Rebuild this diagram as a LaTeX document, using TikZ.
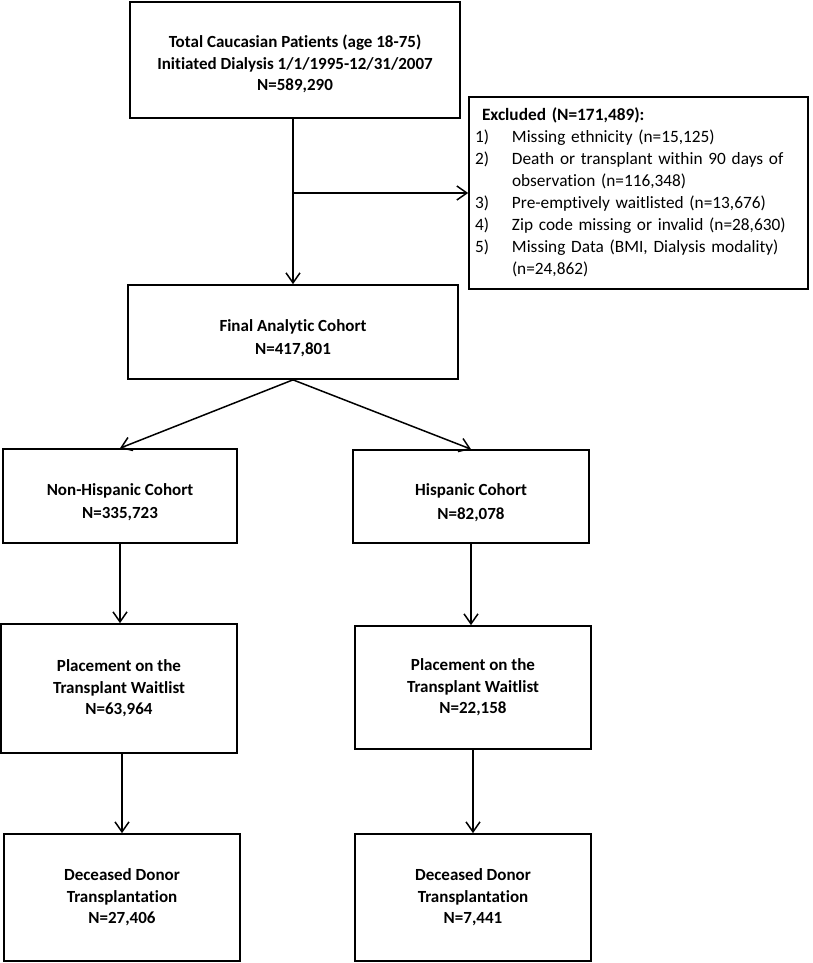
\documentclass[tikz,border=0pt]{standalone}
\usepackage{fontspec}
\setmainfont{Carlito}[Ligatures=NoCommon]
\usetikzlibrary{arrows.meta}
\begin{document}
\begin{tikzpicture}[x=1pt, y=-1pt, line width=1.5pt,
    >={Straight Barb[length=10pt,width=14pt]},
    box/.style={draw, line width=1.7pt, align=center, inner sep=0pt,
                font=\fontsize{17}{21.5}\selectfont\bfseries},
    lowtext/.style={text height=#1},
    twoline/.style={box, lowtext=48pt, font=\fontsize{17}{23.5}\selectfont\bfseries},
    exclbox/.style={draw, line width=1.7pt, align=left, inner xsep=6pt, inner ysep=0pt,
                text width=327pt, font=\fontsize{17.3}{22}\selectfont}]

    \useasboundingbox (0,0) rectangle (812,963);

    \node [box, lowtext=64pt, minimum width=330pt, minimum height=116pt] at (295,60) (Tot)
        {Total Caucasian Patients (age 18-75)\\Initiated Dialysis 1/1/1995-12/31/2007\\N=589,290};

    \node [exclbox, minimum height=192pt] at (638.5,193) (Excl)
        {\begin{tabular}{@{}p{37pt}@{}l@{}}
         \multicolumn{2}{@{\hspace{7pt}}l@{}}{\textbf{Excluded (N=171,489):}}\\
         1) & Missing ethnicity (n=15,125)\\
         2) & Death or transplant within 90 days of\\
            & observation (n=116,348)\\
         3) & Pre-emptively waitlisted (n=13,676)\\
         4) & Zip code missing or invalid (n=28,630)\\
         5) & Missing Data (BMI, Dialysis modality)\\
            & (n=24,862)
         \end{tabular}};

    \node [twoline, minimum width=330pt, minimum height=94pt] at (293,332) (Fin)
        {Final Analytic Cohort\\N=417,801};

    \node [twoline, minimum width=234pt, minimum height=94pt] at (120,496) (NH)
        {Non-Hispanic Cohort\\N=335,723};
    \node [twoline, minimum width=236pt, minimum height=93pt] at (471,496.5) (H)
        {Hispanic Cohort\\N=82,078};

    \node [box, minimum width=236pt, minimum height=129pt] at (119,688.5) (WlNH)
        {Placement on the\\Transplant Waitlist\\N=63,964};
    \node [box, minimum width=236pt, minimum height=123pt] at (473,687.5) (WlH)
        {Placement on the\\Transplant Waitlist\\N=22,158};

    \node [box, minimum width=236pt, minimum height=127pt] at (122,897.5) (DdNH)
        {Deceased Donor\\Transplantation\\N=27,406};
    \node [box, minimum width=236pt, minimum height=127pt] at (473,897.5) (DdH)
        {Deceased Donor\\Transplantation\\N=7,441};

    % main line and exclusion branch
    \coordinate (TotOut) at (Fin.north |- Tot.south);
    \coordinate (Split) at (Fin.north |- Excl.west);
    \path [->,draw] (TotOut) -- (Fin.north);
    \path [->,draw] (Split) -- (Excl.west);

    \path [->,draw] (Fin.south) -- (NH.north);
    \path [->,draw] (Fin.south) -- (H.north);

    \path [->,draw] (NH.south) -- (WlNH.north -| NH.south);
    \path [->,draw] (H.south) -- (WlH.north -| H.south);

    \path [->,draw] (DdNH.north |- WlNH.south) -- (DdNH.north);
    \path [->,draw] (WlH.south) -- (DdH.north);

\end{tikzpicture}
\end{document}
